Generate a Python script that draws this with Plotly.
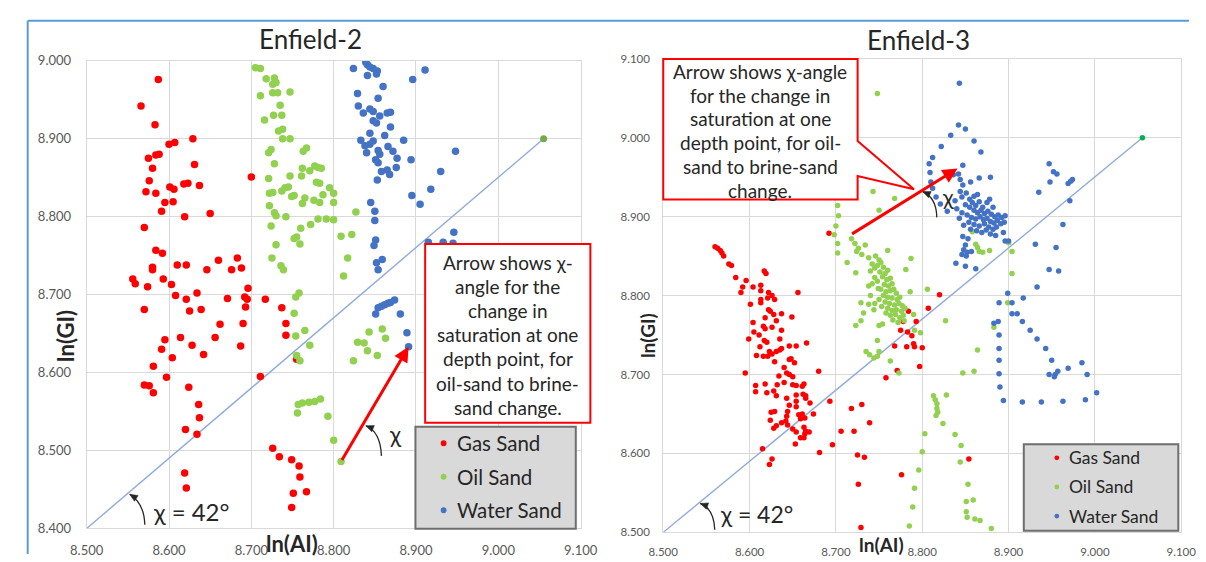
import plotly.graph_objects as go

W, H = 1206, 562

# ---------------- DATA ----------------
# Enfield-2
e2_gas_x = [8.587, 8.566, 8.583, 8.600, 8.607, 8.629, 8.584, 8.588, 8.575, 8.580, 8.631, 8.576, 8.700, 8.572, 8.584,
            8.601, 8.606, 8.618, 8.623, 8.637, 8.595, 8.605, 8.591, 8.619, 8.650, 8.570, 8.584, 8.592, 8.580, 8.580,
            8.610, 8.621, 8.646, 8.660, 8.676, 8.688, 8.683, 8.556, 8.559, 8.574, 8.593, 8.603, 8.696,
            8.608, 8.621, 8.634, 8.671, 8.692, 8.695, 8.693, 8.717, 8.570, 8.625, 8.639, 8.737, 8.662, 8.690, 8.742,
            8.742, 8.595, 8.614, 8.656, 8.591, 8.628, 8.687, 8.604, 8.642, 8.581, 8.711, 8.597, 8.570, 8.576, 8.581,
            8.624, 8.636, 8.637, 8.620, 8.634, 8.619, 8.621, 8.726, 8.734, 8.749, 8.755, 8.758, 8.759, 8.751, 8.767, 8.749]
e2_gas_y = [8.976, 8.942, 8.918, 8.893, 8.895, 8.900, 8.879, 8.880, 8.875, 8.862, 8.867, 8.846, 8.851, 8.832, 8.830,
            8.838, 8.835, 8.842, 8.843, 8.840, 8.818, 8.819, 8.807, 8.800, 8.804, 8.786, 8.757, 8.753, 8.735, 8.732,
            8.738, 8.738, 8.732, 8.744, 8.732, 8.734, 8.747, 8.720, 8.714, 8.710, 8.720, 8.713, 8.708,
            8.699, 8.694, 8.702, 8.695, 8.697, 8.694, 8.684, 8.694, 8.681, 8.679, 8.681, 8.683, 8.662, 8.663, 8.663,
            8.648, 8.642, 8.645, 8.645, 8.630, 8.635, 8.634, 8.619, 8.623, 8.608, 8.595, 8.594, 8.584, 8.583, 8.574,
            8.581, 8.559, 8.542, 8.527, 8.521, 8.471, 8.452, 8.503, 8.492, 8.488, 8.617, 8.480, 8.466, 8.445, 8.447, 8.427]

e2_oil_x = [8.705, 8.711, 8.718, 8.728, 8.726, 8.730, 8.747, 8.726, 8.732, 8.711, 8.735, 8.716, 8.727, 8.737, 8.733,
            8.738, 8.738, 8.747, 8.724, 8.721, 8.728, 8.721, 8.747, 8.722, 8.726, 8.737, 8.741, 8.745, 8.749, 8.722,
            8.728, 8.730, 8.742, 8.724, 8.730, 8.725, 8.736, 8.739, 8.752, 8.763, 8.767, 8.762, 8.771, 8.777, 8.781,
            8.785, 8.761, 8.779, 8.783, 8.795, 8.800, 8.752, 8.765, 8.762, 8.776, 8.783, 8.787, 8.800, 8.827, 8.772,
            8.781, 8.791, 8.800, 8.760, 8.755, 8.759, 8.809, 8.822, 8.817, 8.812, 8.758, 8.754, 8.752, 8.765, 8.754,
            8.771, 8.755, 8.759, 8.757, 8.762, 8.770, 8.777, 8.784, 8.756, 8.793, 8.800, 8.809, 8.843, 8.859, 8.863,
            8.829, 8.837, 8.841, 8.853, 8.824]
e2_oil_y = [8.991, 8.990, 8.977, 8.978, 8.970, 8.972, 8.960, 8.959, 8.959, 8.955, 8.943, 8.924, 8.930, 8.930, 8.910,
            8.912, 8.900, 8.900, 8.886, 8.882, 8.868, 8.849, 8.852, 8.830, 8.831, 8.833, 8.837, 8.838, 8.826, 8.814,
            8.805, 8.801, 8.800, 8.788, 8.764, 8.747, 8.737, 8.732, 8.772, 8.884, 8.888, 8.862, 8.859, 8.865, 8.863,
            8.862, 8.852, 8.844, 8.843, 8.837, 8.830, 8.827, 8.824, 8.817, 8.821, 8.818, 8.828, 8.818, 8.806, 8.790,
            8.797, 8.797, 8.796, 8.785, 8.774, 8.765, 8.775, 8.777, 8.747, 8.724, 8.702, 8.697, 8.676, 8.654, 8.647,
            8.635, 8.622, 8.615, 8.559, 8.561, 8.562, 8.563, 8.566, 8.548, 8.544, 8.513, 8.486, 8.652, 8.656, 8.644,
            8.639, 8.638, 8.628, 8.622, 8.615]

e2_water_x = [8.839, 8.841, 8.844, 8.848, 8.853, 8.824, 8.841, 8.852, 8.911, 8.896, 8.860, 8.829, 8.854, 8.830, 8.836,
              8.844, 8.848, 8.856, 8.865, 8.869, 8.848, 8.852, 8.869, 8.844, 8.862, 8.833, 8.838, 8.844, 8.848, 8.840,
              8.854, 8.856, 8.866, 8.872, 8.885, 8.851, 8.854, 8.877, 8.894, 8.948, 8.858, 8.865, 8.868, 8.876, 8.853,
              8.930, 8.918, 8.895, 8.905, 8.845, 8.850, 8.850, 8.851, 8.849, 8.946, 8.859, 8.852, 8.854, 8.915, 8.933,
              8.945, 8.851, 8.854, 8.858, 8.862, 8.866, 8.869, 8.874, 8.881, 8.889, 8.891]
e2_water_y = [8.998, 8.995, 8.992, 8.990, 8.987, 8.990, 8.981, 8.983, 8.988, 8.976, 8.967, 8.958, 8.952, 8.942, 8.933,
              8.938, 8.935, 8.929, 8.933, 8.934, 8.923, 8.920, 8.915, 8.907, 8.904, 8.898, 8.891, 8.893, 8.897, 8.882,
              8.885, 8.880, 8.890, 8.884, 8.898, 8.873, 8.869, 8.875, 8.873, 8.884, 8.858, 8.860, 8.854, 8.863, 8.847,
              8.858, 8.835, 8.827, 8.816, 8.818, 8.807, 8.795, 8.770, 8.763, 8.780, 8.745, 8.741, 8.732, 8.767, 8.767,
              8.766, 8.675, 8.683, 8.685, 8.687, 8.689, 8.690, 8.693, 8.675, 8.651, 8.633]

e2_line_x = [8.500, 9.055]
e2_line_y = [8.400, 8.900]
e2_arrow = [8.809, 8.486, 8.891, 8.633]   # from (x, y) to (x, y)

# Enfield-3
e3_gas_x = [8.560, 8.563, 8.566, 8.568, 8.570, 8.576, 8.579, 8.584, 8.596, 8.592, 8.604, 8.613, 8.619, 8.617, 8.692,
            8.590, 8.613, 8.622, 8.626, 8.656,
            8.601, 8.613, 8.613, 8.621, 8.629, 8.622, 8.624, 8.618, 8.628, 8.631, 8.637, 8.649, 8.604, 8.616, 8.626,
            8.637, 8.618, 8.605, 8.611, 8.617, 8.599, 8.620, 8.612, 8.635, 8.646, 8.654, 8.666, 8.608, 8.616, 8.623,
            8.626, 8.631, 8.635, 8.637, 8.621, 8.629, 8.646, 8.648, 8.652, 8.640, 8.595, 8.634, 8.643, 8.646, 8.650,
            8.680, 8.607, 8.618, 8.632, 8.640, 8.650, 8.654, 8.661, 8.663, 8.607, 8.620, 8.628, 8.631, 8.643, 8.654,
            8.662, 8.665, 8.654, 8.665, 8.670, 8.693, 8.646, 8.654, 8.644, 8.643, 8.657, 8.661, 8.674, 8.625, 8.629,
            8.624, 8.637, 8.642, 8.659, 8.664, 8.631, 8.644, 8.650, 8.654, 8.663, 8.664, 8.665, 8.669, 8.659, 8.663,
            8.628, 8.653, 8.615, 8.626, 8.623, 8.681, 8.696, 8.706, 8.721, 8.718, 8.730, 8.739, 8.725, 8.733, 8.726,
            8.729,
            8.820, 8.807, 8.784, 8.778, 8.793, 8.775, 8.783, 8.788, 8.782, 8.790, 8.791, 8.768, 8.800, 8.797, 8.771,
            8.758, 8.854, 8.776]
e3_gas_y = [8.862, 8.860, 8.857, 8.854, 8.850, 8.840, 8.838, 8.823, 8.819, 8.811, 8.811, 8.813, 8.828, 8.831, 8.879,
            8.804, 8.806, 8.804, 8.800, 8.804,
            8.789, 8.795, 8.791, 8.797, 8.795, 8.782, 8.780, 8.772, 8.776, 8.768, 8.777, 8.773, 8.766, 8.761, 8.760,
            8.756, 8.758, 8.754, 8.750, 8.743, 8.745, 8.741, 8.735, 8.745, 8.736, 8.736, 8.740, 8.724, 8.723, 8.729,
            8.726, 8.729, 8.731, 8.733, 8.723, 8.716, 8.719, 8.720, 8.715, 8.709, 8.702, 8.698, 8.702, 8.700, 8.697,
            8.704, 8.686, 8.688, 8.687, 8.690, 8.687, 8.686, 8.685, 8.688, 8.678, 8.677, 8.679, 8.673, 8.670, 8.674,
            8.675, 8.673, 8.666, 8.670, 8.664, 8.666, 8.661, 8.659, 8.653, 8.647, 8.649, 8.650, 8.650, 8.652, 8.653,
            8.642, 8.639, 8.641, 8.644, 8.645, 8.635, 8.636, 8.631, 8.627, 8.633, 8.625, 8.628, 8.627, 8.620, 8.620,
            8.632, 8.612, 8.606, 8.593, 8.586, 8.601, 8.611, 8.628, 8.628, 8.657, 8.662, 8.639, 8.598, 8.595, 8.561,
            8.506,
            8.801, 8.784, 8.780, 8.767, 8.767, 8.756, 8.754, 8.749, 8.735, 8.739, 8.735, 8.736, 8.734, 8.710, 8.705,
            8.696, 8.593, 8.573]

e3_oil_x = [8.748, 8.768, 8.750, 8.743, 8.702, 8.703, 8.700, 8.698, 8.702, 8.702, 8.713, 8.723, 8.718, 8.722, 8.726,
            8.724, 8.730, 8.734, 8.738, 8.742, 8.745, 8.740, 8.745, 8.742, 8.749, 8.760, 8.787, 8.781, 8.786, 8.806,
            8.858, 8.862, 8.864, 8.866, 8.870, 8.878, 8.900, 8.904, 8.904,
            8.746, 8.750, 8.752, 8.748, 8.755, 8.751, 8.757, 8.760, 8.754, 8.759, 8.763, 8.748, 8.756, 8.761, 8.765,
            8.752, 8.758, 8.763, 8.767, 8.770, 8.755, 8.760, 8.765, 8.771, 8.774, 8.750, 8.757, 8.762, 8.768, 8.773,
            8.777, 8.753, 8.760, 8.765, 8.770, 8.776, 8.780, 8.758, 8.763, 8.769, 8.774, 8.778, 8.766, 8.772, 8.779,
            8.745, 8.740, 8.738,
            8.729, 8.738, 8.732, 8.744, 8.723, 8.729, 8.735, 8.739, 8.744,
            8.790, 8.827, 8.798, 8.791, 8.763, 8.773, 8.847, 8.860, 8.864, 8.883, 8.899, 8.813, 8.815, 8.817, 8.817,
            8.818, 8.816, 8.828, 8.824, 8.838, 8.845, 8.803, 8.800, 8.796, 8.791, 8.789, 8.785, 8.844, 8.853, 8.851,
            8.859, 8.851, 8.852, 8.861, 8.867, 8.880, 8.748, 8.750, 8.748, 8.754, 8.750]
e3_oil_y = [9.056, 8.923, 8.908, 8.932, 8.914, 8.901, 8.888, 8.877, 8.866, 8.854, 8.842, 8.829, 8.872, 8.866, 8.860,
            8.856, 8.852, 8.864, 8.848, 8.840, 8.835, 8.831, 8.823, 8.815, 8.809, 8.857, 8.847, 8.833, 8.805, 8.808,
            8.881, 8.865, 8.861, 8.856, 8.855, 8.857, 8.867, 8.856, 8.828,
            8.850, 8.845, 8.842, 8.838, 8.836, 8.830, 8.828, 8.832, 8.824, 8.820, 8.822, 8.818, 8.814, 8.812, 8.815,
            8.808, 8.805, 8.806, 8.808, 8.803, 8.800, 8.798, 8.797, 8.795, 8.798, 8.795, 8.792, 8.790, 8.788, 8.790,
            8.787, 8.786, 8.784, 8.781, 8.782, 8.780, 8.784, 8.778, 8.775, 8.776, 8.772, 8.775, 8.769, 8.766, 8.768,
            8.790, 8.800, 8.812,
            8.791, 8.789, 8.778, 8.782, 8.762, 8.768, 8.729, 8.725, 8.721,
            8.776, 8.768, 8.753, 8.756, 8.717, 8.702, 8.702, 8.704, 8.731, 8.760, 8.791, 8.673, 8.668, 8.663, 8.657,
            8.652, 8.648, 8.674, 8.638, 8.624, 8.610, 8.625, 8.602, 8.579, 8.556, 8.532, 8.508, 8.589, 8.561, 8.539,
            8.541, 8.526, 8.519, 8.517, 8.515, 8.505, 8.743, 8.729, 8.723, 8.764, 8.762]

e3_water_x = [8.843, 8.842, 8.850, 8.833, 8.822, 8.860, 8.868, 8.812, 8.808, 8.809, 8.847, 8.810, 8.812, 8.816, 8.821,
              8.829, 8.836, 8.842, 8.844, 8.847, 8.856, 8.866, 8.879, 8.844, 8.851, 8.855, 8.860, 8.864,
              8.850, 8.855, 8.858, 8.862, 8.866, 8.870, 8.860, 8.864, 8.868, 8.872, 8.876, 8.880, 8.884, 8.888, 8.892,
              8.896, 8.846, 8.852, 8.857, 8.862, 8.867, 8.871, 8.875, 8.879, 8.883, 8.887, 8.891, 8.895, 8.854, 8.860,
              8.866, 8.872, 8.877, 8.882, 8.886, 8.843, 8.848, 8.856, 8.863, 8.869, 8.874, 8.879, 8.840, 8.838, 8.846,
              8.875, 8.882, 8.878,
              8.885, 8.894, 8.896, 8.900, 8.850, 8.848, 8.852, 8.846, 8.851, 8.857, 8.839, 8.850, 8.862, 8.847, 8.853,
              8.935, 8.947, 8.952, 8.956, 8.948, 8.969, 8.972, 8.974, 8.971, 8.963, 8.931, 8.955, 8.947, 8.958, 8.933,
              8.899,
              8.889, 8.904, 8.917, 8.904, 8.910, 8.883, 8.888, 8.916, 8.925, 8.933, 8.943, 8.950, 8.889, 8.889, 8.889,
              8.889, 8.890, 8.894, 8.947, 8.954, 8.957, 8.953, 8.969, 8.985, 8.991, 9.002, 8.989, 8.963, 8.938, 8.916]
e3_water_y = [9.069, 9.016, 9.011, 9.003, 8.989, 8.996, 8.982, 8.975, 8.967, 8.956, 8.965, 8.944, 8.936, 8.925, 8.916,
              8.907, 8.953, 8.954, 8.947, 8.940, 8.944, 8.949, 8.950, 8.932, 8.930, 8.922, 8.926, 8.928,
              8.915, 8.912, 8.918, 8.914, 8.919, 8.912, 8.908, 8.905, 8.908, 8.904, 8.907, 8.903, 8.900, 8.902, 8.899,
              8.901, 8.905, 8.902, 8.899, 8.897, 8.900, 8.896, 8.898, 8.894, 8.892, 8.895, 8.891, 8.893, 8.893, 8.890,
              8.888, 8.891, 8.887, 8.884, 8.887, 8.898, 8.889, 8.884, 8.882, 8.880, 8.883, 8.878, 8.910, 8.920, 8.925,
              8.918, 8.912, 8.922,
              8.876, 8.880, 8.869, 8.869, 8.864, 8.858, 8.855, 8.852, 8.850, 8.856, 8.841, 8.837, 8.834, 8.875, 8.872,
              8.931, 8.967, 8.957, 8.954, 8.944, 8.942, 8.945, 8.947, 8.920, 8.890, 8.865, 8.861, 8.833, 8.831, 8.811,
              8.803,
              8.791, 8.791, 8.797, 8.777, 8.777, 8.765, 8.767, 8.767, 8.756, 8.745, 8.733, 8.718, 8.750, 8.733, 8.718,
              8.701, 8.684, 8.667, 8.700, 8.700, 8.704, 8.697, 8.708, 8.715, 8.700, 8.677, 8.668, 8.666, 8.665, 8.665]

e3_line_x = [8.500, 9.055]
e3_line_y = [8.500, 9.000]
e3_arrow = [8.717, 8.877, 8.841, 8.961]

series_names = ["Gas Sand", "Oil Sand", "Water Sand"]
titles = ["Enfield-2", "Enfield-3"]
box_text_left = ["Arrow shows χ-", "angle for the", "change in", "saturation at one",
                 "depth point, for", "oil-sand to brine-", "sand change."]
box_text_right = ["Arrow shows χ-angle", "for the change in", "saturation at one",
                  "depth point, for oil-", "sand to brine-sand", "change."]

# ---------------- STYLE ----------------
RED, GREEN, BLUE = "#FF0000", "#92D050", "#4472C4"
FONT = "Lato"
TXT = "#262626"
GRID = "#D9D9D9"


def PX(x):
    return x / W


def PY(y):
    return 1 - y / H


fig = go.Figure()


def scat(xs, ys, color, xa, ya, size):
    fig.add_trace(go.Scatter(x=xs, y=ys, mode="markers", xaxis=xa, yaxis=ya,
                             marker=dict(color=color, size=size, line=dict(width=0)),
                             showlegend=False, hoverinfo="skip"))


def line(xs, ys, xa, ya, endcolor, size):
    fig.add_trace(go.Scatter(x=xs, y=ys, mode="lines", xaxis=xa, yaxis=ya,
                             line=dict(color="#8FAADC", width=1.4),
                             showlegend=False, hoverinfo="skip"))
    fig.add_trace(go.Scatter(x=xs[-1:], y=ys[-1:], mode="markers", xaxis=xa, yaxis=ya,
                             marker=dict(color=endcolor, size=size),
                             showlegend=False, hoverinfo="skip"))


line(e2_line_x, e2_line_y, "x", "y", "#70AD47", 7)
scat(e2_gas_x, e2_gas_y, RED, "x", "y", 7.5)
scat(e2_oil_x, e2_oil_y, GREEN, "x", "y", 7.5)
scat(e2_water_x, e2_water_y, BLUE, "x", "y", 7.5)

line(e3_line_x, e3_line_y, "x2", "y2", "#00B050", 5.5)
scat(e3_gas_x, e3_gas_y, RED, "x2", "y2", 5.5)
scat(e3_oil_x, e3_oil_y, GREEN, "x2", "y2", 5.5)
scat(e3_water_x, e3_water_y, BLUE, "x2", "y2", 5.5)

ax_common = dict(showgrid=True, gridcolor=GRID, gridwidth=1, zeroline=False, showline=True,
                 linecolor=GRID, linewidth=1, mirror=True, ticks="outside", tickcolor="rgba(0,0,0,0)",
                 dtick=0.1, tickformat=".3f")

shapes = []
annotations = []

# panel border
shapes.append(dict(type="line", xref="paper", yref="paper", x0=PX(11), x1=PX(1206), y0=PY(13), y1=PY(13),
                   line=dict(color="#5B9BD5", width=2)))
shapes.append(dict(type="line", xref="paper", yref="paper", x0=PX(11), x1=PX(11), y0=PY(13), y1=PY(562),
                   line=dict(color="#5B9BD5", width=2)))


def text(x, y, s, size, color=TXT, bold=False, angle=0, xanchor="center"):
    annotations.append(dict(xref="paper", yref="paper", x=PX(x), y=PY(y), text=("<b>%s</b>" % s) if bold else s,
                            showarrow=False, xanchor=xanchor, yanchor="middle", textangle=angle,
                            borderpad=0, font=dict(family=FONT, size=size, color=color)))


def rect(x0, y0, x1, y1, fill, lc, lw):
    shapes.append(dict(type="rect", xref="paper", yref="paper", x0=PX(x0), x1=PX(x1), y0=PY(y1), y1=PY(y0),
                       fillcolor=fill, line=dict(color=lc, width=lw), layer="above"))


def dot(x, y, r, color):
    shapes.append(dict(type="circle", xref="paper", yref="paper", x0=PX(x - r), x1=PX(x + r),
                       y0=PY(y + r), y1=PY(y - r), fillcolor=color, line=dict(width=0), layer="above"))


def curved(p0, c, p1):
    path = "M %f,%f Q %f,%f %f,%f" % (PX(p0[0]), PY(p0[1]), PX(c[0]), PY(c[1]), PX(p1[0]), PY(p1[1]))
    shapes.append(dict(type="path", xref="paper", yref="paper", path=path, line=dict(color="#262626", width=1.3),
                       layer="above"))
    dx, dy = p1[0] - c[0], p1[1] - c[1]
    n = (dx * dx + dy * dy) ** 0.5
    dx, dy = dx / n, dy / n
    L, w = 8, 3.5
    bx, by = p1[0] - dx * L, p1[1] - dy * L
    pts = [(p1[0], p1[1]), (bx - dy * w, by + dx * w), (bx + dy * w, by - dx * w)]
    path = "M " + " L ".join("%f,%f" % (PX(a), PY(b)) for a, b in pts) + " Z"
    shapes.append(dict(type="path", xref="paper", yref="paper", path=path, fillcolor="#262626",
                       line=dict(color="#262626", width=0.5), layer="above"))


# titles and axis titles
text(302, 32, titles[0], 26)
text(928, 33, titles[1], 26)
text(50, 338, "ln(GI)", 22, bold=True, angle=-90)
text(283, 551, "ln(AI)", 22, bold=True)
text(649, 337, "ln(GI)", 19, bold=True, angle=-90)
text(890, 552, "ln(AI)", 19, bold=True)

# left text box
rect(420, 243, 590, 427, "white", "#FF0000", 2)
for i, s in enumerate(box_text_left):
    text(505, 262 + i * 24.8, s, 19)

# right callout
cp = [(665, 52.5), (865, 52.5), (865, 137), (923, 186.5), (865, 173), (865, 197), (665, 197)]
path = "M " + " L ".join("%f,%f" % (PX(a), PY(b)) for a, b in cp) + " Z"
shapes.append(dict(type="path", xref="paper", yref="paper", path=path, fillcolor="white",
                   line=dict(color="#FF0000", width=2), layer="above"))
for i, s in enumerate(box_text_right):
    text(765, 65 + i * 24.6, s, 19)

# legends
rect(410, 431, 575, 536, "#D9D9D9", "#6E6E6E", 2)
for i, (nm, col) in enumerate(zip(series_names, [RED, GREEN, BLUE])):
    y = 448 + i * 34.5
    dot(439, y, 3, col)
    text(452, y, nm, 20.5, xanchor="left")

rect(1036, 449, 1195, 538, "#D9D9D9", "#6E6E6E", 2)
for i, (nm, col) in enumerate(zip(series_names, [RED, GREEN, BLUE])):
    y = 463 + i * 30
    dot(1070, y, 2.5, col)
    text(1081, y, nm, 17.5, xanchor="left")

# chi annotations
curved((131.5, 532), (131, 510), (116, 500.5))
text(139, 518, "χ = 42°", 24, xanchor="left")
curved((375, 461), (374, 436), (359, 430))
text(389, 438, "χ", 23)
curved((946.5, 215.5), (946, 195), (932, 189))
text(958, 194, "χ", 22)
curved((718, 537), (717, 515), (703, 510))
text(722, 521, "χ = 42°", 23, xanchor="left")

# red arrows in data coordinates
for arr, xr, yr in [(e2_arrow, "x", "y"), (e3_arrow, "x2", "y2")]:
    annotations.append(dict(x=arr[2], y=arr[3], ax=arr[0], ay=arr[1], xref=xr, yref=yr, axref=xr, ayref=yr,
                            text="", showarrow=True, arrowhead=2, arrowsize=1.0, arrowwidth=3,
                            arrowcolor="#FF0000", standoff=0, startstandoff=0))

fig.update_layout(
    width=W, height=H, margin=dict(l=0, r=0, t=0, b=0),
    paper_bgcolor="white", plot_bgcolor="white", showlegend=False,
    font=dict(family=FONT, color="#595959"),
    xaxis=dict(domain=[PX(71.7), PX(580)], range=[8.5, 9.1], anchor="y", tick0=8.5, ticklen=10,
               tickfont=dict(size=13, color="#595959"), **ax_common),
    yaxis=dict(domain=[PY(535.7), PY(54.3)], range=[8.4, 9.0], anchor="x", tick0=8.4, ticklen=12,
               tickfont=dict(size=13, color="#595959"), **ax_common),
    xaxis2=dict(domain=[PX(665), PX(1198)], range=[8.5, 9.1], anchor="y2", tick0=8.5, ticklen=9,
                tickfont=dict(size=11.5, color="#595959"), **ax_common),
    yaxis2=dict(domain=[PY(539.7), PY(52.3)], range=[8.5, 9.1], anchor="x2", tick0=8.5, ticklen=10,
                tickfont=dict(size=11.5, color="#595959"), **ax_common),
    shapes=shapes, annotations=annotations,
)

fig.write_html("out.html",
               post_script="document.body.style.margin='0';document.body.style.overflow='hidden';")
